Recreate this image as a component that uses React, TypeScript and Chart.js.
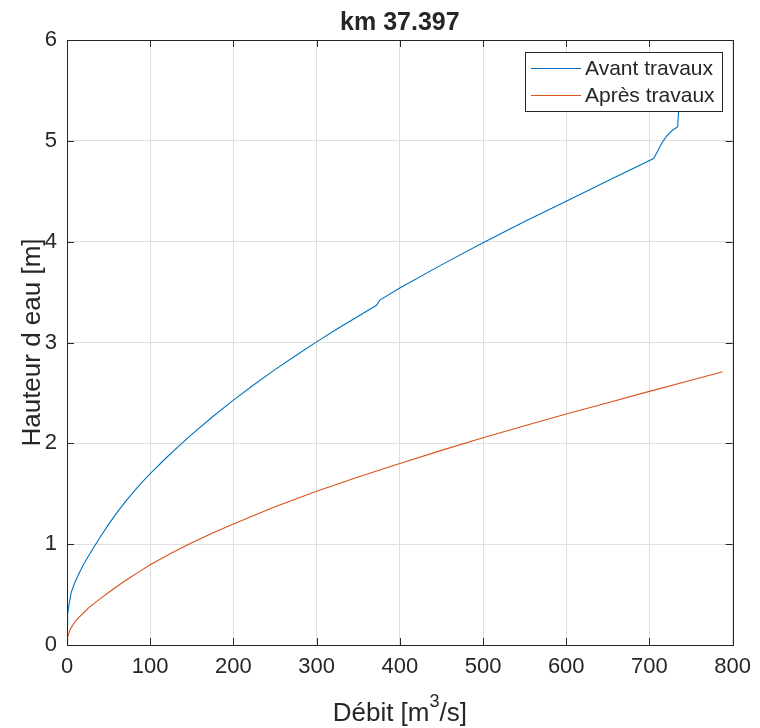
import React, { useEffect, useRef } from "react";
import { Chart, registerables } from "chart.js";

Chart.register(...registerables);

const titleText = "km 37.397";
const seriesNames = ["Avant travaux", "Après travaux"];
const xLabelMain = "Débit [m";
const xLabelSup = "3";
const xLabelEnd = "/s]";
const yLabel = "Hauteur d eau [m]";

const avantQ = [0, 0.5, 1, 2, 3.5, 5, 7.5, 10, 15, 20, 26, 33, 41, 50, 60, 70, 80, 90, 100, 120, 135, 150, 175, 200, 225, 250, 275, 300, 325, 350, 372, 376, 400, 450, 500, 550, 600, 650, 705, 710, 715, 721, 727, 734, 736, 786];
const avantH = [0.2, 0.25, 0.3, 0.38, 0.45, 0.52, 0.578, 0.63, 0.72, 0.8, 0.885, 0.98, 1.083, 1.196, 1.313, 1.42, 1.519, 1.612, 1.7, 1.862, 1.978, 2.089, 2.264, 2.429, 2.584, 2.731, 2.871, 3.006, 3.136, 3.261, 3.369, 3.42, 3.54, 3.77, 3.99, 4.2, 4.4, 4.605, 4.825, 4.9, 4.98, 5.05, 5.1, 5.14, 5.45, 5.48];

const apresQ = [0, 0.5, 1, 2, 3, 5, 8, 11, 15, 20, 25, 30, 40, 50, 62, 75, 87, 100, 125, 150, 175, 200, 250, 300, 350, 400, 450, 500, 550, 600, 650, 700, 750, 788];
const apresH = [0, 0.05, 0.08, 0.11, 0.14, 0.17, 0.21, 0.245, 0.28, 0.32, 0.36, 0.395, 0.46, 0.52, 0.592, 0.665, 0.728, 0.795, 0.91, 1.015, 1.11, 1.2, 1.37, 1.525, 1.667, 1.8, 1.93, 2.055, 2.175, 2.29, 2.403, 2.515, 2.625, 2.71];

const xMin = 0, xMax = 800, xStep = 100;
const yMin = 0, yMax = 6, yStep = 1;

const colors = ["#0072BD", "#D95319"];
const ink = "#262626";
const FONT = "'Liberation Sans', Arial, Helvetica, sans-serif";

const overlay = {
  id: "matlabOverlay",
  afterDraw(chart: any) {
    const ctx = chart.ctx as CanvasRenderingContext2D;
    const { left, right, top, bottom } = chart.chartArea;
    const xs = chart.scales.x;
    const ys = chart.scales.y;
    ctx.save();
    ctx.strokeStyle = ink;
    ctx.lineWidth = 1;
    const tl = 7;
    ctx.beginPath();
    xs.ticks.forEach((t: any) => {
      const p = Math.round(xs.getPixelForValue(t.value)) + 0.5;
      ctx.moveTo(p, bottom);
      ctx.lineTo(p, bottom - tl);
      ctx.moveTo(p, top);
      ctx.lineTo(p, top + tl);
    });
    ys.ticks.forEach((t: any) => {
      const p = Math.round(ys.getPixelForValue(t.value)) + 0.5;
      ctx.moveTo(left, p);
      ctx.lineTo(left + tl, p);
      ctx.moveTo(right, p);
      ctx.lineTo(right - tl, p);
    });
    ctx.stroke();
    ctx.strokeRect(Math.round(left) + 0.5, Math.round(top) + 0.5, Math.round(right - left), Math.round(bottom - top));

    ctx.fillStyle = ink;
    ctx.font = `bold 25px ${FONT}`;
    ctx.textAlign = "center";
    ctx.textBaseline = "alphabetic";
    ctx.fillText(titleText, (left + right) / 2, 30);

    const mainFont = `26px ${FONT}`;
    const supFont = `18px ${FONT}`;
    ctx.font = mainFont;
    const w1 = ctx.measureText(xLabelMain).width;
    const w3 = ctx.measureText(xLabelEnd).width;
    ctx.font = supFont;
    const w2 = ctx.measureText(xLabelSup).width;
    const total = w1 + w2 + w3;
    let sx = (left + right) / 2 - total / 2;
    const base = 721;
    ctx.textAlign = "left";
    ctx.font = mainFont;
    ctx.fillText(xLabelMain, sx, base);
    sx += w1;
    ctx.font = supFont;
    ctx.fillText(xLabelSup, sx, base - 14);
    sx += w2;
    ctx.font = mainFont;
    ctx.fillText(xLabelEnd, sx, base);

    ctx.save();
    ctx.translate(40, (top + bottom) / 2);
    ctx.rotate(-Math.PI / 2);
    ctx.textAlign = "center";
    ctx.font = mainFont;
    ctx.fillText(yLabel, 0, 0);
    ctx.restore();

    const lx = 525, ly = 52, lw = 197, lh = 59;
    ctx.fillStyle = "#ffffff";
    ctx.fillRect(lx, ly, lw, lh);
    ctx.strokeStyle = ink;
    ctx.strokeRect(lx + 0.5, ly + 0.5, lw, lh);
    ctx.font = `21px ${FONT}`;
    ctx.textBaseline = "middle";
    ctx.textAlign = "left";
    const rows = [68.5, 95.5];
    seriesNames.forEach((n, i) => {
      ctx.strokeStyle = colors[i];
      ctx.beginPath();
      ctx.moveTo(lx + 6, rows[i]);
      ctx.lineTo(lx + 56, rows[i]);
      ctx.stroke();
      ctx.fillStyle = ink;
      ctx.fillText(n, lx + 60, rows[i] + 1);
    });
    ctx.restore();
  },
};

export default function App() {
  const ref = useRef<HTMLCanvasElement | null>(null);
  useEffect(() => {
    document.body.style.margin = "0";
    const canvas = ref.current!;
    const chart = new Chart(canvas, {
      type: "scatter",
      data: {
        datasets: [
          {
            label: seriesNames[0],
            data: avantQ.map((q, i) => ({ x: q, y: avantH[i] })),
            showLine: true,
            borderColor: colors[0],
            backgroundColor: colors[0],
            borderWidth: 1.1,
            pointRadius: 0,
            tension: 0,
          },
          {
            label: seriesNames[1],
            data: apresQ.map((q, i) => ({ x: q, y: apresH[i] })),
            showLine: true,
            borderColor: colors[1],
            backgroundColor: colors[1],
            borderWidth: 1.1,
            pointRadius: 0,
            tension: 0,
          },
        ],
      },
      options: {
        responsive: false,
        animation: false,
        devicePixelRatio: 1,
        layout: { padding: { left: 0, right: 26, top: 40, bottom: 0 } },
        plugins: { legend: { display: false }, title: { display: false }, tooltip: { enabled: false } },
        scales: {
          x: {
            type: "linear",
            min: xMin,
            max: xMax,
            afterFit: (s: any) => { s.height = 83; },
            ticks: { stepSize: xStep, padding: 9, color: ink, font: { family: FONT, size: 22 } },
            grid: { color: "#dfdfdf", drawTicks: false },
            border: { display: false },
          },
          y: {
            type: "linear",
            min: yMin,
            max: yMax,
            afterFit: (s: any) => { s.width = 67; },
            ticks: { stepSize: yStep, padding: 10, color: ink, font: { family: FONT, size: 22 } },
            grid: { color: "#dfdfdf", drawTicks: false },
            border: { display: false },
          },
        },
      },
      plugins: [overlay],
    } as any);
    return () => chart.destroy();
  }, []);
  return <canvas ref={ref} width={760} height={728} style={{ display: "block", width: 760, height: 728 }} />;
}
